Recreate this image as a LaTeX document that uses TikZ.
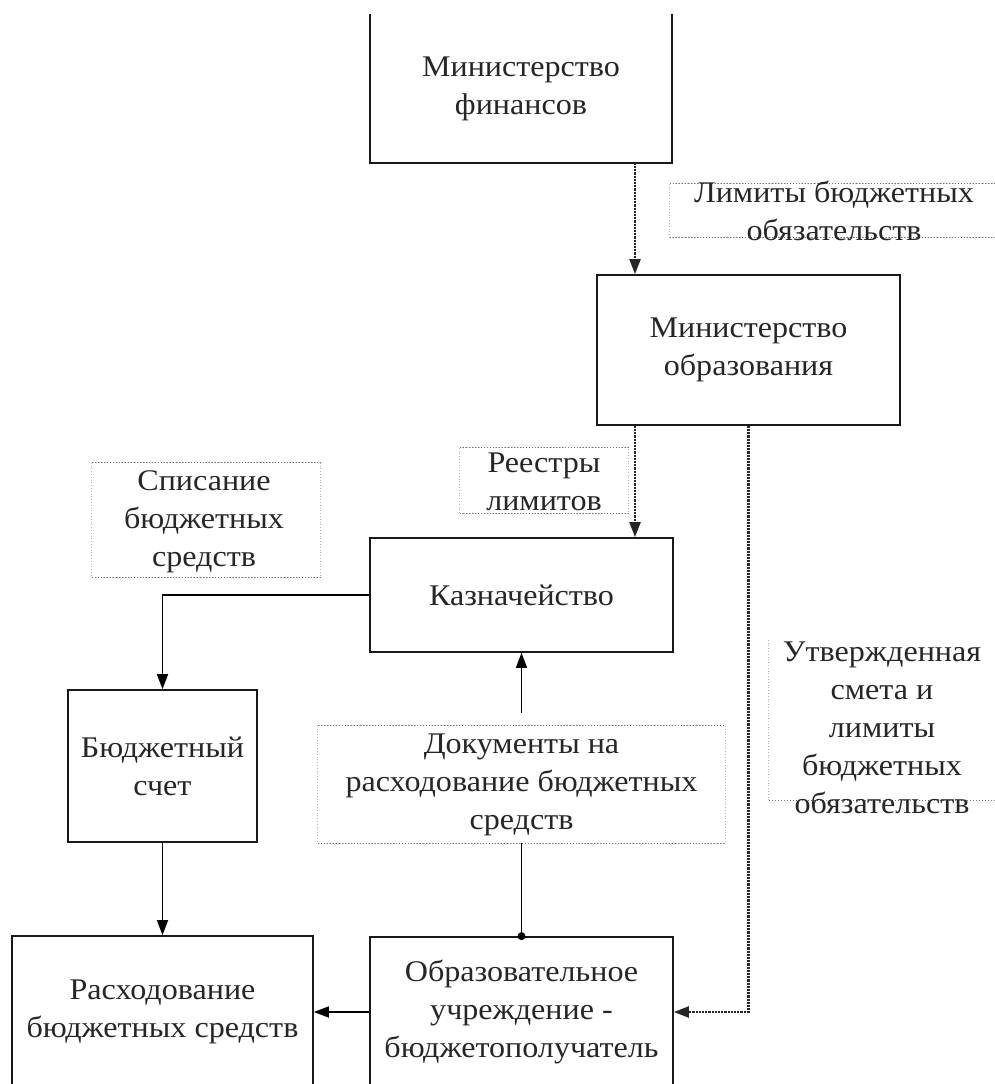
\documentclass[tikz,border=0pt]{standalone}
\usepackage{fontspec}
\setmainfont{Liberation Serif}[FakeStretch=1.07]
\usetikzlibrary{arrows.meta}
\newcommand\diagfont{\fontsize{30}{38}\selectfont}
\begin{document}
\begin{tikzpicture}[x=1pt,y=-1pt,
 box/.style={draw=black!90,line width=1.7pt,inner sep=0pt,align=center,font=\diagfont,text=black!85},
 openbox/.style={box,draw=none},
 lbl/.style={inner sep=0pt,align=center,font=\diagfont,text=black!85},
 lblside/.style={draw=black!30,dotted,line width=0.8pt},
 lbltb/.style={draw=black!55,dotted,line width=1pt},
 solidconn/.style={draw=black,line width=1.7pt},
 dotconn/.style={draw=black!85,densely dotted,line width=2.2pt},
 arr/.style={-{Triangle[length=15pt,width=11pt]}},
]
\useasboundingbox (0,0) rectangle (995,1084);
\clip (0,0) rectangle (995,1084);

% label frames (drawn first)
\node[lbl,minimum width=340pt,minimum height=53pt] (limbox) at (840,210.5) {};
\node[lbl,minimum width=240pt,minimum height=160pt] (utvbox) at (889,720) {};
\node[lbl,minimum width=168pt,minimum height=65pt] (reestr) at (544,480.5) {};
\node[lbl,minimum width=228pt,minimum height=114pt] (spis) at (206,520) {};
\node[lbl,minimum width=407pt,minimum height=117pt] (doc) at (521.5,784.5) {};
\foreach \n in {limbox,reestr,spis,doc}{
  \draw[lblside] (\n.north west) rectangle (\n.south east);
  \draw[lbltb] (\n.north west) -- (\n.north east) (\n.south west) -- (\n.south east);
}
\draw[lblside] (utvbox.north west) -- (utvbox.south west);
\draw[lbltb] (utvbox.south west) -- (utvbox.south east);

% label texts
\node[lbl] (limtxt) at (834,211) {Лимиты бюджетных\\обязательств};
\node[lbl] (utvtxt) at (882,728) {Утвержденная\\смета и\\лимиты\\бюджетных\\обязательств};
\node[lbl] (reestrtxt) at (544,482) {Реестры\\лимитов};
\node[lbl] (spistxt) at (204,522) {Списание\\бюджетных\\средств};
\node[lbl] (doctxt) at (521.5,785) {Документы на\\расходование бюджетных\\средств};

% main boxes
\node[openbox,minimum width=300pt,minimum height=147pt] (mf) at (521,88.5) {Министерство\\финансов};
\draw[box] (mf.north west) -- (mf.south west) -- (mf.south east) -- (mf.north east);
\node[box,minimum width=303pt,minimum height=150pt] (mo) at (748.5,350) {Министерство\\образования};
\node[box,minimum width=303pt,minimum height=114pt] (kazn) at (521.5,595) {Казначейство};
\node[box,minimum width=189pt,minimum height=152pt] (bs) at (162.5,766) {Бюджетный\\счет};
\node[box,minimum width=301pt,minimum height=152pt] (rash) at (162.5,1012) {Расходование\\бюджетных средств};
\node[box,minimum width=303pt,minimum height=150pt] (obr) at (521.5,1012) {Образовательное\\учреждение -\\бюджетополучатель};

% connectors
\coordinate (cx) at (635,0);
\draw[dotconn,arr] (mf.south -| cx) -- (mo.north -| cx);
\draw[dotconn,arr] (mo.south -| cx) -- (kazn.north -| cx);
\draw[dotconn,arr] (mo.south) |- (obr.east);
\draw[solidconn,arr] (kazn.west) -| (bs.north);
\draw[solidconn,arr] (bs.south) -- (rash.north);
\draw[solidconn,arr] (obr.west) -- (rash.east);
\draw[solidconn] (obr.north) -- (doc.south);
\fill[black] (obr.north) circle (4pt);
\draw[solidconn,arr] ([yshift=13pt]doc.north) -- (kazn.south);
\end{tikzpicture}
\end{document}
